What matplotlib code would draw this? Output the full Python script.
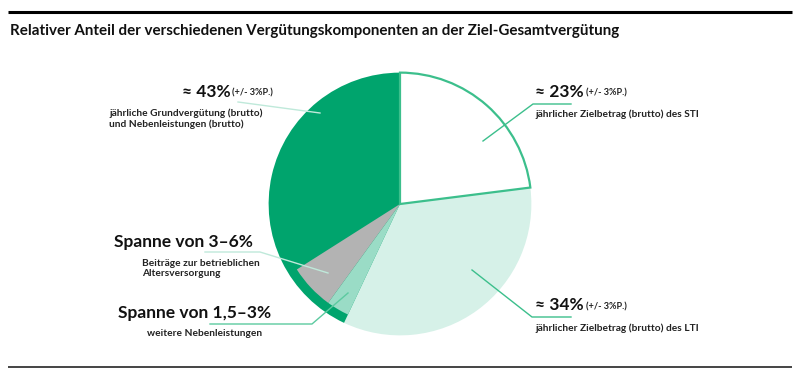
import matplotlib.pyplot as plt

# Anteile an der Ziel-Gesamtvergütung (in %)
main_labels = ['STI', 'LTI', 'Grundvergütung']
main_values = [23, 34, 43]
# Spannen innerhalb des Grundvergütungs-Anteils (obere Grenze, in %)
span_labels = ['weitere Nebenleistungen', 'Altersversorgung']
span_values = [3, 6]

title = 'Relativer Anteil der verschiedenen Vergütungskomponenten an der Ziel-Gesamtvergütung'

GREEN = '#00a46d'
LIGHT = '#d6f1e8'
TEAL = '#9adcc6'
GRAY = '#b3b3b3'
EDGE = '#3cbf8c'
PALE = '#bfe9da'

fig = plt.figure(figsize=(8, 3.84), dpi=100)

# Pie axes: center (400, 204) px, radius 134 px
cx, cy, r = 400, 204, 134
ax = fig.add_axes([(cx - r) / 800, (384 - cy - r) / 384, 2 * r / 800, 2 * r / 384])
wedges, _ = ax.pie(main_values, startangle=90, counterclock=False, radius=1,
                   colors=['white', LIGHT, GREEN],
                   wedgeprops=dict(linewidth=0))
wedges[0].set_edgecolor(EDGE)
wedges[0].set_linewidth(1.6)
wedges[0].set_zorder(5)

lead = main_values[0] + main_values[1]
tail = 100 - lead - sum(span_values)
ov, _ = ax.pie([lead] + span_values + [tail], startangle=90, counterclock=False,
               radius=0.93, colors=['none', TEAL, GRAY, 'none'],
               wedgeprops=dict(linewidth=0))
for w in ov:
    w.set_zorder(3)
ax.set_xlim(-1.02, 1.02)
ax.set_ylim(-1.02, 1.02)
ax.axis('off')

# overlay in pixel coordinates for texts and leader lines
ov_ax = fig.add_axes([0, 0, 1, 1], zorder=10)
ov_ax.set_xlim(0, 800)
ov_ax.set_ylim(384, 0)
ov_ax.axis('off')
ov_ax.patch.set_alpha(0)

ov_ax.plot([8, 792], [12, 12], color='black', lw=2.2, solid_capstyle='butt')
ov_ax.plot([8, 792], [367, 367], color='#444444', lw=1.4, solid_capstyle='butt')

ov_ax.text(10, 31, title, fontsize=10.9, fontweight='bold', va='center', ha='left',
           family=['Lato', 'DejaVu Sans'], color='#111111')

big = dict(fontsize=12.5, fontweight='bold', family=['Lato', 'DejaVu Sans'],
           va='center', ha='left', color='#111111')
small = dict(fontsize=6.6, fontweight='bold', family=['Lato', 'DejaVu Sans'],
             va='center', ha='left', color='#222222')
sub = dict(fontsize=7.3, fontweight='bold', family=['Lato', 'DejaVu Sans'],
           va='center', ha='left', color='#222222')

# 43 %
ov_ax.text(182, 92, '≈ %d%%' % main_values[2], **big)
ov_ax.text(232, 93, '(+/- 3%P.)', **small)
ov_ax.text(109, 113, 'jährliche Grundvergütung (brutto)', **sub)
ov_ax.text(109, 124, 'und Nebenleistungen (brutto)', **sub)
ov_ax.plot([238, 320], [102, 113], color=PALE, lw=1)

# 23 %
ov_ax.text(535, 92, '≈ %d%%' % main_values[0], **big)
ov_ax.text(586, 93, '(+/- 3%P.)', **small)
ov_ax.text(535, 114, 'jährlicher Zielbetrag (brutto) des STI', **sub)
ov_ax.plot([571, 533, 483], [104, 104, 141], color=EDGE, lw=1)

# 34 %
ov_ax.text(535, 305, '≈ %d%%' % main_values[1], **big)
ov_ax.text(586, 307, '(+/- 3%P.)', **small)
ov_ax.text(535, 328, 'jährlicher Zielbetrag (brutto) des LTI', **sub)
ov_ax.plot([571, 532, 472], [317, 317, 270], color=EDGE, lw=1)

# 3-6 %
ov_ax.text(114, 242, 'Spanne von 3–6%', **big)
ov_ax.text(142, 263, 'Beiträge zur betrieblichen', **sub)
ov_ax.text(142, 274, 'Altersversorgung', **sub)
ov_ax.plot([205, 260, 328], [252, 252, 273], color=PALE, lw=1)

# 1,5-3 %
ov_ax.text(118, 313, 'Spanne von 1,5–3%', **big)
ov_ax.text(147, 333, 'weitere Nebenleistungen', **sub)
ov_ax.plot([210, 312, 348], [324, 324, 293], color='#5ccaa0', lw=1)

fig.savefig('out.png', dpi=100)
